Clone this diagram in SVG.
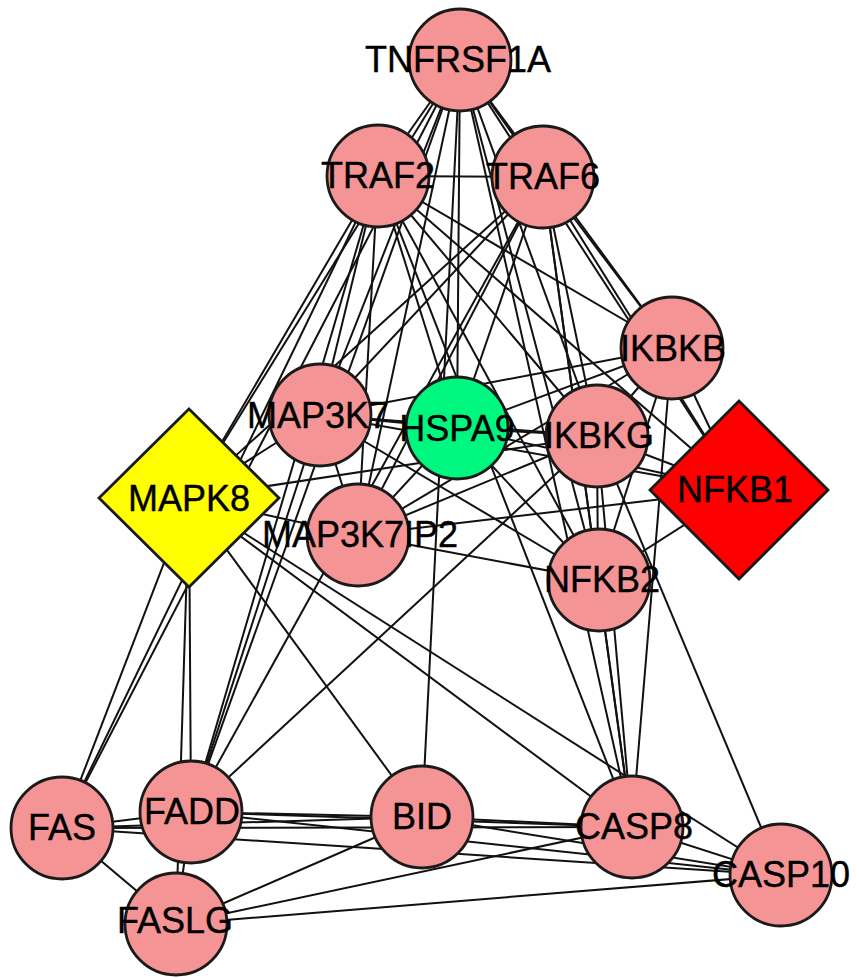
<svg xmlns="http://www.w3.org/2000/svg" width="859" height="978" viewBox="0 0 859 978">
<style>
.e{stroke:#111;stroke-width:2;fill:none}
.n{fill:#F49494;stroke:#1a1a1a;stroke-width:2.8}
.g{fill:#00F77F;stroke:#1a1a1a;stroke-width:2.8}
.y{fill:#FFFF00;stroke:#1a1a1a;stroke-width:2.8}
.r{fill:#FF0000;stroke:#1a1a1a;stroke-width:2.8}
text{font-family:"Liberation Sans",Arial,sans-serif;font-size:36px;fill:#000;stroke:#000;stroke-width:0.4;text-anchor:middle}
</style>
<rect width="859" height="978" fill="#fff"/>
<g id="edges" class="e">
<line x1="460" y1="60" x2="378" y2="176"/>
<line x1="460" y1="60" x2="543" y2="177"/>
<line x1="460" y1="60" x2="457" y2="428"/>
<line x1="460" y1="60" x2="422" y2="817"/>
<line x1="460" y1="60" x2="320" y2="415"/>
<line x1="460" y1="60" x2="358" y2="535"/>
<line x1="460" y1="60" x2="189" y2="498"/>
<line x1="460" y1="60" x2="62" y2="828"/>
<line x1="460" y1="60" x2="191" y2="812"/>
<line x1="460" y1="60" x2="672" y2="348"/>
<line x1="460" y1="60" x2="597" y2="436"/>
<line x1="460" y1="60" x2="739" y2="490"/>
<line x1="460" y1="60" x2="598" y2="580"/>
<line x1="460" y1="60" x2="632" y2="827"/>
<line x1="378" y1="176" x2="543" y2="177"/>
<line x1="378" y1="176" x2="320" y2="415"/>
<line x1="378" y1="176" x2="358" y2="535"/>
<line x1="378" y1="176" x2="457" y2="428"/>
<line x1="378" y1="176" x2="672" y2="348"/>
<line x1="378" y1="176" x2="597" y2="436"/>
<line x1="378" y1="176" x2="739" y2="490"/>
<line x1="378" y1="176" x2="598" y2="580"/>
<line x1="378" y1="176" x2="189" y2="498"/>
<line x1="378" y1="176" x2="191" y2="812"/>
<line x1="378" y1="176" x2="62" y2="828"/>
<line x1="378" y1="176" x2="632" y2="827"/>
<line x1="543" y1="177" x2="320" y2="415"/>
<line x1="543" y1="177" x2="358" y2="535"/>
<line x1="543" y1="177" x2="457" y2="428"/>
<line x1="543" y1="177" x2="672" y2="348"/>
<line x1="543" y1="177" x2="597" y2="436"/>
<line x1="543" y1="177" x2="739" y2="490"/>
<line x1="543" y1="177" x2="598" y2="580"/>
<line x1="543" y1="177" x2="189" y2="498"/>
<line x1="543" y1="177" x2="191" y2="812"/>
<line x1="543" y1="177" x2="632" y2="827"/>
<line x1="672" y1="348" x2="597" y2="436"/>
<line x1="672" y1="348" x2="739" y2="490"/>
<line x1="672" y1="348" x2="598" y2="580"/>
<line x1="672" y1="348" x2="320" y2="415"/>
<line x1="672" y1="348" x2="457" y2="428"/>
<line x1="672" y1="348" x2="358" y2="535"/>
<line x1="672" y1="348" x2="632" y2="827"/>
<line x1="597" y1="436" x2="457" y2="428"/>
<line x1="597" y1="436" x2="739" y2="490"/>
<line x1="597" y1="436" x2="598" y2="580"/>
<line x1="597" y1="436" x2="320" y2="415"/>
<line x1="597" y1="436" x2="358" y2="535"/>
<line x1="597" y1="436" x2="632" y2="827"/>
<line x1="597" y1="436" x2="781" y2="875"/>
<line x1="597" y1="436" x2="191" y2="812"/>
<line x1="597" y1="436" x2="189" y2="498"/>
<line x1="739" y1="490" x2="598" y2="580"/>
<line x1="739" y1="490" x2="358" y2="535"/>
<line x1="739" y1="490" x2="320" y2="415"/>
<line x1="739" y1="490" x2="457" y2="428"/>
<line x1="598" y1="580" x2="358" y2="535"/>
<line x1="598" y1="580" x2="632" y2="827"/>
<line x1="598" y1="580" x2="457" y2="428"/>
<line x1="598" y1="580" x2="320" y2="415"/>
<line x1="320" y1="415" x2="457" y2="428"/>
<line x1="320" y1="415" x2="358" y2="535"/>
<line x1="320" y1="415" x2="189" y2="498"/>
<line x1="320" y1="415" x2="191" y2="812"/>
<line x1="457" y1="428" x2="358" y2="535"/>
<line x1="358" y1="535" x2="189" y2="498"/>
<line x1="189" y1="498" x2="191" y2="812"/>
<line x1="189" y1="498" x2="62" y2="828"/>
<line x1="189" y1="498" x2="422" y2="817"/>
<line x1="189" y1="498" x2="632" y2="827"/>
<line x1="189" y1="498" x2="781" y2="875"/>
<line x1="189" y1="498" x2="176" y2="924"/>
<line x1="62" y1="828" x2="191" y2="812"/>
<line x1="62" y1="828" x2="176" y2="924"/>
<line x1="62" y1="828" x2="422" y2="817"/>
<line x1="62" y1="828" x2="632" y2="827"/>
<line x1="62" y1="828" x2="781" y2="875"/>
<line x1="191" y1="812" x2="176" y2="924"/>
<line x1="191" y1="812" x2="422" y2="817"/>
<line x1="191" y1="812" x2="632" y2="827"/>
<line x1="191" y1="812" x2="781" y2="875"/>
<line x1="422" y1="817" x2="632" y2="827"/>
<line x1="422" y1="817" x2="781" y2="875"/>
<line x1="422" y1="817" x2="176" y2="924"/>
<line x1="632" y1="827" x2="781" y2="875"/>
<line x1="632" y1="827" x2="176" y2="924"/>
<line x1="781" y1="875" x2="176" y2="924"/>
</g>
<g id="TNFRSF1A"><circle class="n" cx="460" cy="60" r="51"/><text x="458" y="72">TNFRSF1A</text></g>
<g id="TRAF2"><circle class="n" cx="378" cy="176" r="51"/><text x="378" y="188">TRAF2</text></g>
<g id="TRAF6"><circle class="n" cx="543" cy="177" r="51"/><text x="543" y="189">TRAF6</text></g>
<g id="IKBKB"><circle class="n" cx="672" cy="348" r="51"/><text x="673" y="361">IKBKB</text></g>
<g id="MAP3K7"><circle class="n" cx="320" cy="415" r="51"/><text x="318" y="428">MAP3K7</text></g>
<g id="HSPA9"><circle class="g" cx="457" cy="428" r="51"/><text x="457" y="441">HSPA9</text></g>
<g id="IKBKG"><circle class="n" cx="597" cy="436" r="51"/><text x="599" y="448">IKBKG</text></g>
<g id="MAPK8"><polygon class="y" points="189,409 279,498 189,587 99,498"/><text x="189" y="511">MAPK8</text></g>
<g id="NFKB1"><polygon class="r" points="739,401 828,490 739,579 650,490"/><text x="735" y="502">NFKB1</text></g>
<g id="MAP3K7IP2"><circle class="n" cx="358" cy="535" r="51"/><text x="360" y="547">MAP3K7IP2</text></g>
<g id="NFKB2"><circle class="n" cx="599" cy="580" r="51"/><text x="602" y="592">NFKB2</text></g>
<g id="FAS"><circle class="n" cx="62" cy="828" r="51"/><text x="62" y="840">FAS</text></g>
<g id="FADD"><circle class="n" cx="191" cy="812" r="51"/><text x="192" y="824">FADD</text></g>
<g id="BID"><circle class="n" cx="422" cy="817" r="51"/><text x="422" y="829">BID</text></g>
<g id="CASP8"><circle class="n" cx="632" cy="827" r="51"/><text x="634" y="839">CASP8</text></g>
<g id="CASP10"><circle class="n" cx="781" cy="875" r="51"/><text x="781" y="887">CASP10</text></g>
<g id="FASLG"><circle class="n" cx="176" cy="924" r="51"/><text x="175" y="933">FASLG</text></g>
</svg>
